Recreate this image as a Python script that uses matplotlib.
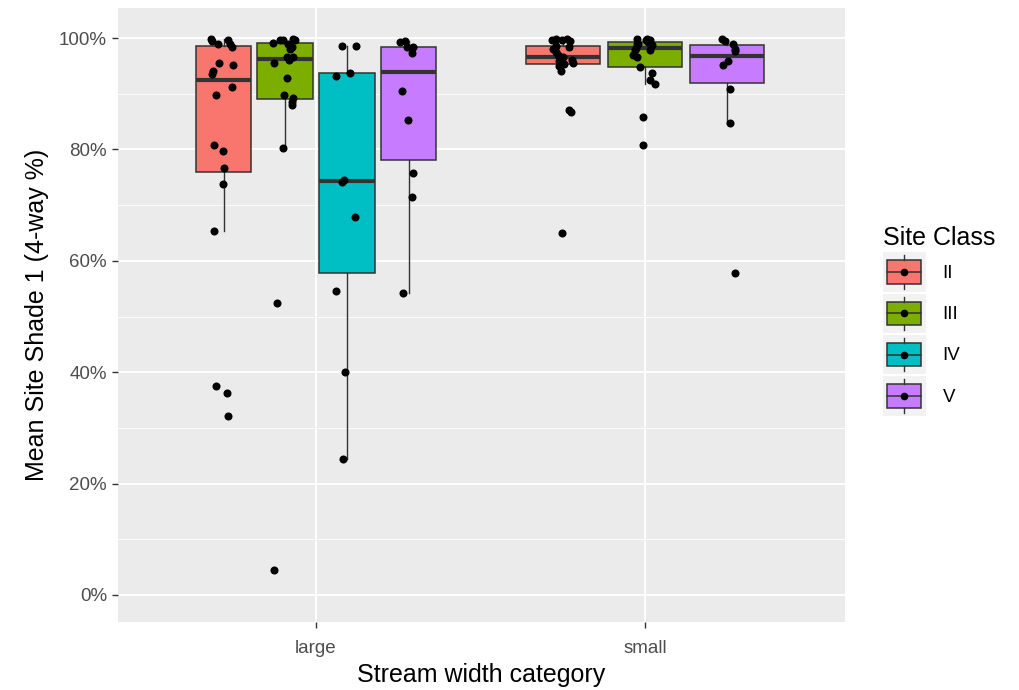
import numpy as np
import matplotlib
matplotlib.use("Agg")
import matplotlib.pyplot as plt
from matplotlib.legend_handler import HandlerBase
from matplotlib.patches import Rectangle
from matplotlib.lines import Line2D

plt.rcParams['font.family'] = ['Liberation Sans', 'DejaVu Sans']

# stream width categories and site classes
widths = ["large", "small"]
classes = ["II", "III", "IV", "V"]
colors = ["#F8766D", "#7CAE00", "#00BFC4", "#C77CFF"]

# shade values (%), with their horizontal jitter (category units)
large_II = [99.9, 99.5, 98.9, 99.6, 98.4, 99.0, 95.5, 95.2, 94.0, 93.5,
            91.3, 89.7, 80.8, 79.8, 76.7, 73.8, 65.4, 37.6, 36.3, 32.2]
large_II_jit = [-0.038, -0.034, -0.018, 0.013, 0.025, 0.020, -0.013, 0.030, -0.031, -0.034,
                0.025, -0.024, -0.030, -0.002, 0.002, -0.002, -0.030, -0.024, 0.010, 0.015]

large_III = [99.2, 99.6, 99.6, 99.0, 99.9, 98.4, 98.0, 96.6, 96.6, 96.0,
             95.5, 92.9, 89.7, 89.3, 88.6, 88.0, 80.2, 52.5, 4.5, 99.7]
large_III_jit = [-0.038, -0.016, -0.006, 0.009, 0.025, 0.020, 0.015, 0.005, 0.025, 0.012,
                 -0.034, 0.005, -0.003, 0.025, 0.022, 0.020, -0.008, -0.024, -0.034, 0.030]

large_IV = [98.6, 98.6, 93.2, 93.8, 74.1, 74.5, 67.8, 54.5, 40.1, 24.5]
large_IV_jit = [-0.014, 0.027, -0.034, 0.010, -0.016, -0.008, 0.025, -0.034, -0.006, -0.012]

large_V = [99.3, 99.4, 98.4, 98.4, 97.3, 90.5, 85.3, 75.7, 71.5, 54.2]
large_V_jit = [-0.026, -0.011, -0.004, 0.015, 0.010, -0.021, -0.001, 0.015, 0.010, -0.016]

small_II = [99.6, 99.9, 99.6, 99.9, 99.4, 98.4, 98.1, 97.5, 97.0, 96.4, 95.8,
            96.1, 95.5, 94.1, 87.1, 86.8, 65.0, 94.9, 96.6, 98.6, 95.3]
small_II_jit = [-0.034, -0.019, -0.003, 0.012, 0.022, 0.020, -0.029, -0.019, -0.014, -0.003, -0.011,
                0.027, 0.032, -0.006, 0.020, 0.025, -0.002, -0.010, 0.000, -0.020, 0.005]

small_III = [99.9, 99.0, 99.9, 99.6, 98.7, 97.8, 97.8, 97.0, 96.6, 94.8, 93.8,
             92.5, 91.7, 85.9, 80.8, 99.3, 98.2, 99.5, 98.9, 99.7, 98.5]
small_III_jit = [-0.025, -0.025, 0.005, 0.015, 0.020, 0.015, -0.030, -0.036, -0.025, -0.015, 0.020,
                 0.015, 0.030, -0.006, -0.006, 0.008, -0.028, 0.012, -0.022, 0.003, 0.018]

small_V = [99.9, 99.5, 98.9, 98.1, 97.7, 95.8, 95.2, 90.8, 84.7, 57.8]
small_V_jit = [-0.015, -0.007, 0.018, 0.023, 0.023, 0.003, -0.012, 0.008, 0.008, 0.023]

groups = {
    ("large", "II"): (large_II, large_II_jit),
    ("large", "III"): (large_III, large_III_jit),
    ("large", "IV"): (large_IV, large_IV_jit),
    ("large", "V"): (large_V, large_V_jit),
    ("small", "II"): (small_II, small_II_jit),
    ("small", "III"): (small_III, small_III_jit),
    ("small", "V"): (small_V, small_V_jit),
}

EDGE = "#333333"
DODGE = 0.75


class BoxKeyHandler(HandlerBase):
    def create_artists(self, legend, orig_handle, xdescent, ydescent,
                       width, height, fontsize, trans):
        x0, y0 = -xdescent, -ydescent
        bg = Rectangle((x0, y0), width, height, facecolor="#F2F2F2",
                       edgecolor="none", transform=trans)
        box = Rectangle((x0 + 0.1 * width, y0 + 0.2 * height), 0.8 * width, 0.6 * height,
                        facecolor=orig_handle.get_facecolor(), edgecolor=EDGE,
                        linewidth=1.1, transform=trans)
        cx = x0 + width / 2
        wl = Line2D([cx, cx], [y0 + 0.07 * height, y0 + 0.2 * height], color=EDGE,
                    lw=1.0, transform=trans)
        wh = Line2D([cx, cx], [y0 + 0.8 * height, y0 + 0.93 * height], color=EDGE,
                    lw=1.0, transform=trans)
        med = Line2D([x0 + 0.1 * width, x0 + 0.9 * width], [y0 + height / 2] * 2,
                     color=EDGE, lw=1.1, transform=trans)
        dot = Line2D([cx], [y0 + height / 2], marker="o", ms=5.5, color="black",
                     markeredgewidth=0, transform=trans)
        return [bg, box, wl, wh, med, dot]


fig = plt.figure(figsize=(10.19, 6.9), dpi=100)
ax = fig.add_axes([0.1158, 0.0986, 0.7134, 0.8898])
ax.set_facecolor("#EBEBEB")

for wi, w in enumerate(widths):
    present = [c for c in classes if (w, c) in groups]
    n = len(present)
    slot = DODGE / n
    for k, c in enumerate(present):
        vals, jit = groups[(w, c)]
        pos = wi + 1 - DODGE / 2 + slot * (k + 0.5)
        col = colors[classes.index(c)]
        ax.boxplot(vals, positions=[pos], widths=slot * 0.9, whis=1.5,
                   patch_artist=True, showfliers=False, showcaps=False,
                   manage_ticks=False, zorder=3,
                   boxprops=dict(facecolor=col, edgecolor=EDGE, linewidth=1.1),
                   whiskerprops=dict(color=EDGE, linewidth=1.0),
                   medianprops=dict(color=EDGE, linewidth=3.0, solid_capstyle="butt"))
        ax.plot(pos + np.array(jit), vals, "o", ms=5.8, color="black",
                markeredgewidth=0, zorder=4)

ax.set_xlim(0.398, 2.608)
ax.set_ylim(-4.85, 105.4)
ax.set_xticks([1, 2])
ax.set_xticklabels(widths)
ax.set_yticks(np.arange(0, 101, 20))
ax.set_yticklabels([f"{v}%" for v in range(0, 101, 20)])
ax.set_yticks(np.arange(10, 100, 20), minor=True)

ax.grid(True, which="major", color="white", linewidth=1.3, zorder=0)
ax.grid(True, which="minor", axis="y", color="white", linewidth=0.6, zorder=0)
ax.set_axisbelow(True)
for s in ax.spines.values():
    s.set_visible(False)
ax.tick_params(axis="both", which="major", colors=EDGE, length=4, width=1,
               labelsize=13.5, labelcolor="#4D4D4D")
ax.tick_params(axis="x", which="major", pad=9)
ax.tick_params(axis="y", which="major", pad=4)
ax.tick_params(axis="y", which="minor", length=0)

ax.set_xlabel("Stream width category", fontsize=18, labelpad=4)
ax.set_ylabel("Mean Site Shade 1 (4-way %)", fontsize=18, labelpad=7)

handles = [Rectangle((0, 0), 1, 1, facecolor=c) for c in colors]
leg = fig.legend(handles, classes, handler_map={Rectangle: BoxKeyHandler()},
                 loc="center left", bbox_to_anchor=(0.857, 0.535), frameon=False,
                 title="Site Class", title_fontsize=18, fontsize=13.5,
                 handlelength=2.3, handleheight=2.83, labelspacing=0.12,
                 handletextpad=0.9, alignment="left", borderpad=0)

fig.savefig("out.png", dpi=100)
